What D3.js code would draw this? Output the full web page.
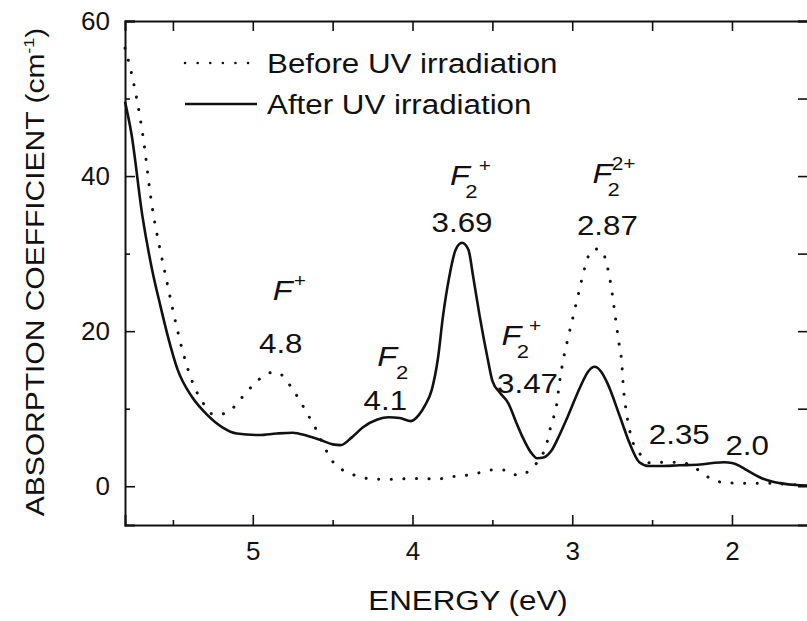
<!DOCTYPE html>
<html>
<head>
<meta charset="utf-8">
<script src="https://cdn.jsdelivr.net/npm/d3@7"></script>
<style>
  body { margin: 0; background: #fff; }
  text { font-family: "Liberation Sans", Arial, sans-serif; fill: #111; }
</style>
</head>
<body>
<div id="chart"></div>
<script>
// energy (eV) and absorption coefficient (cm-1)
const afterEnergy = [5.80, 5.76, 5.69, 5.63, 5.58, 5.53, 5.47, 5.38, 5.29, 5.19, 5.10, 4.96, 4.85, 4.75, 4.66, 4.58,
  4.50, 4.45, 4.38, 4.31, 4.22, 4.15, 4.08, 4.01, 3.96, 3.92, 3.88, 3.84, 3.81, 3.77, 3.73, 3.69, 3.65, 3.62,
  3.58, 3.53, 3.50, 3.45, 3.40, 3.35, 3.31, 3.26, 3.22, 3.18, 3.13, 3.08, 3.03, 2.95, 2.90, 2.86, 2.82, 2.78,
  2.70, 2.64, 2.58, 2.52, 2.45, 2.33, 2.20, 2.12, 2.05, 2.00, 1.95, 1.91, 1.85, 1.81, 1.75, 1.70, 1.60, 1.52];
const afterValue = [49.6, 45.5, 34.7, 27.9, 23.4, 19.2, 15.0, 11.5, 9.3, 7.6, 6.8, 6.6, 6.8, 6.9, 6.5, 6.0,
  5.4, 5.3, 6.3, 7.6, 8.6, 8.9, 8.8, 8.4, 9.2, 10.5, 12.4, 16.6, 21.8, 27.0, 30.5, 31.4, 30.5, 27.0,
  22.0, 16.5, 13.6, 12.0, 10.7, 8.2, 6.3, 4.4, 3.6, 3.7, 4.6, 6.6, 8.9, 12.8, 14.8, 15.4, 14.8, 13.3,
  8.9, 5.5, 3.1, 2.6, 2.6, 2.7, 2.8, 3.0, 3.1, 3.0, 2.6, 2.1, 1.4, 1.0, 0.6, 0.4, 0.15, 0.1];

const beforeEnergy = [5.80, 5.75, 5.69, 5.63, 5.58, 5.54, 5.50, 5.44, 5.39, 5.31, 5.24, 5.16, 5.07, 5.00, 4.91,
  4.87, 4.83, 4.76, 4.71, 4.66, 4.61, 4.55, 4.50, 4.43, 4.36, 4.28, 4.19, 4.10, 4.02, 3.94, 3.85, 3.77, 3.67,
  3.59, 3.50, 3.42, 3.34, 3.25, 3.16, 3.13, 3.10, 3.08, 3.06, 3.03, 3.00, 2.96, 2.92, 2.88, 2.84, 2.81, 2.78,
  2.75, 2.73, 2.71, 2.69, 2.68, 2.66, 2.63, 2.58, 2.51, 2.41, 2.33, 2.24, 2.16, 2.06, 1.98, 1.90, 1.80, 1.70,
  1.60, 1.52];
const beforeValue = [56.5, 52.4, 45.5, 36.0, 30.5, 26.6, 22.7, 17.5, 14.1, 10.7, 9.2, 9.5, 11.4, 13.0, 14.5,
  14.7, 14.5, 12.8, 11.2, 9.4, 7.6, 5.0, 3.2, 2.0, 1.4, 1.0, 0.9, 0.9, 1.0, 1.0, 0.9, 1.2, 1.4,
  1.7, 2.1, 2.1, 1.4, 2.4, 5.5, 8.1, 10.2, 13.3, 15.9, 18.8, 21.4, 24.9, 28.3, 30.4, 30.6, 30.2, 28.3,
  24.9, 21.8, 18.8, 15.9, 12.8, 9.4, 6.3, 4.3, 3.0, 3.1, 3.1, 2.5, 1.3, 0.5, 0.4, 0.4, 0.4, 0.3,
  0.2, 0.1];

const xTicks = [5, 4, 3, 2];
const xMinorTicks = [5.5, 4.5, 3.5, 2.5];
const yTicks = [0, 20, 40, 60];
const yMinorTicks = [10, 30, 50];

const legendLabels = ['Before UV irradiation', 'After UV irradiation'];

// peak annotations: energy label and the spot (eV, cm-1) it is written at
const peakText = ['4.8', '4.1', '3.69', '3.47', '2.87', '2.35', '2.0'];
const peakE = [4.825, 4.17, 3.69, 3.28, 2.78, 2.33, 1.905];
const peakY = [17.2, 9.8, 32.8, 12.0, 32.4, 5.5, 4.0];
// centre name written above the energy: F with subscript / superscript
const centreSub = ['', '2', '2', '2', '2', null, null];
const centreSup = ['+', '', '+', '+', '2+', null, null];

const width = 807;
const height = 621;
const margin = { top: 21, right: -1, bottom: 96, left: 125 };
const stretch = 1.16; // the original lettering is wider than Liberation Sans

const x = d3.scaleLinear().domain([5.80, 1.524]).range([margin.left, width - margin.right]);
const y = d3.scaleLinear().domain([-5, 60]).range([height - margin.bottom, margin.top]);

const svg = d3.select('#chart').append('svg')
  .attr('width', width)
  .attr('height', height);

// frame ticks, all pointing inwards
const major = 10, minor = 5;
function styleAxis(g) {
  g.selectAll('.domain').attr('stroke', '#111').attr('stroke-width', 2);
  g.selectAll('.tick line').attr('stroke', '#111').attr('stroke-width', 1.6);
  g.selectAll('text').attr('font-size', 26).attr('fill', '#111')
    .attr('font-family', '"Liberation Sans", Arial, sans-serif');
}

const bottomAxis = svg.append('g').attr('transform', `translate(0,${y(-5)})`);
bottomAxis.call(d3.axisBottom(x).tickValues(xTicks).tickSize(-major).tickPadding(17).tickFormat(d3.format('d')));
bottomAxis.append('g').call(d3.axisBottom(x).tickValues(xMinorTicks).tickSize(-minor).tickFormat(''))
  .select('.domain').remove();
styleAxis(bottomAxis);

const topAxis = svg.append('g').attr('transform', `translate(0,${y(60)})`);
topAxis.call(d3.axisTop(x).tickValues(xTicks.concat(xMinorTicks)).tickSize(-major).tickFormat(''));
styleAxis(topAxis);

const leftAxis = svg.append('g').attr('transform', `translate(${x(5.80)},0)`);
leftAxis.call(d3.axisLeft(y).tickValues(yTicks).tickSize(-major).tickPadding(15).tickFormat(d3.format('d')));
leftAxis.append('g').call(d3.axisLeft(y).tickValues(yMinorTicks).tickSize(-minor).tickFormat(''))
  .select('.domain').remove();
styleAxis(leftAxis);

const rightAxis = svg.append('g').attr('transform', `translate(${x(1.524)},0)`);
rightAxis.call(d3.axisRight(y).tickValues(yTicks.concat(yMinorTicks)).tickSize(-major).tickFormat(''));
styleAxis(rightAxis);

// curves
const line = d3.line()
  .x(d => x(d[0]))
  .y(d => y(d[1]))
  .curve(d3.curveMonotoneX);

const plot = svg.append('g');
const before = beforeEnergy.map((e, i) => [e, beforeValue[i]]);
const after = afterEnergy.map((e, i) => [e, afterValue[i]]);

plot.append('path')
  .datum(before)
  .attr('fill', 'none')
  .attr('stroke', '#111')
  .attr('stroke-width', 3)
  .attr('stroke-linecap', 'round')
  .attr('stroke-dasharray', '0.1,12.5')
  .attr('d', line);

plot.append('path')
  .datum(after)
  .attr('fill', 'none')
  .attr('stroke', '#111')
  .attr('stroke-width', 2.6)
  .attr('d', line);

// legend
const legend = svg.append('g');
legendLabels.forEach((lab, i) => {
  const ly = 63 + i * 41;
  legend.append('line')
    .attr('x1', 185).attr('x2', 257)
    .attr('y1', ly).attr('y2', ly)
    .attr('stroke', '#111')
    .attr('stroke-width', i === 0 ? 2.5 : 2.6)
    .attr('stroke-linecap', i === 0 ? 'round' : 'butt')
    .attr('stroke-dasharray', i === 0 ? '0.1,12.5' : null);
  legend.append('text')
    .attr('transform', `translate(267,${ly + 10}) scale(${stretch},1)`)
    .attr('font-size', 27)
    .text(lab);
});

// peak annotations; label offsets (px) relative to the energy text
const nameDx = [-8, -8, -12, -26, -15];
const nameDy = [-53, -44, -47, -48, -52];
const subDx = [0, -1, -4, -4, -4];
const supDx = [1, 0, 1, 0, -7];

const notes = svg.append('g');
peakText.forEach((t, i) => {
  const g = notes.append('g')
    .attr('transform', `translate(${x(peakE[i])},${y(peakY[i])}) scale(${stretch},1)`);
  g.append('text')
    .attr('text-anchor', 'middle')
    .attr('font-size', 27)
    .text(t);
  if (centreSub[i] === null) return;
  const name = g.append('text')
    .attr('x', nameDx[i] / stretch)
    .attr('y', nameDy[i]);
  name.append('tspan').attr('font-size', 28).attr('font-style', 'italic').text('F');
  let lift = 0;
  if (centreSub[i]) {
    name.append('tspan').attr('dx', subDx[i]).attr('dy', 13).attr('font-size', 19).text(centreSub[i]);
    lift = 13;
  }
  name.append('tspan')
    .attr('dx', supDx[i])
    .attr('dy', -13 - lift)
    .attr('font-size', 18)
    .text(centreSup[i]);
});

// axis titles
svg.append('text')
  .attr('transform', `translate(468,610) scale(${stretch},1)`)
  .attr('text-anchor', 'middle')
  .attr('font-size', 27)
  .text('ENERGY (eV)');

const yt = svg.append('text')
  .attr('transform', `translate(44,272) rotate(-90) scale(1.2,1)`)
  .attr('text-anchor', 'middle')
  .attr('font-size', 25);
yt.append('tspan').text('ABSORPTION COEFFICIENT (cm');
yt.append('tspan').attr('dy', -10).attr('font-size', 15).text('-1');
yt.append('tspan').attr('dy', 10).text(')');
</script>
</body>
</html>
